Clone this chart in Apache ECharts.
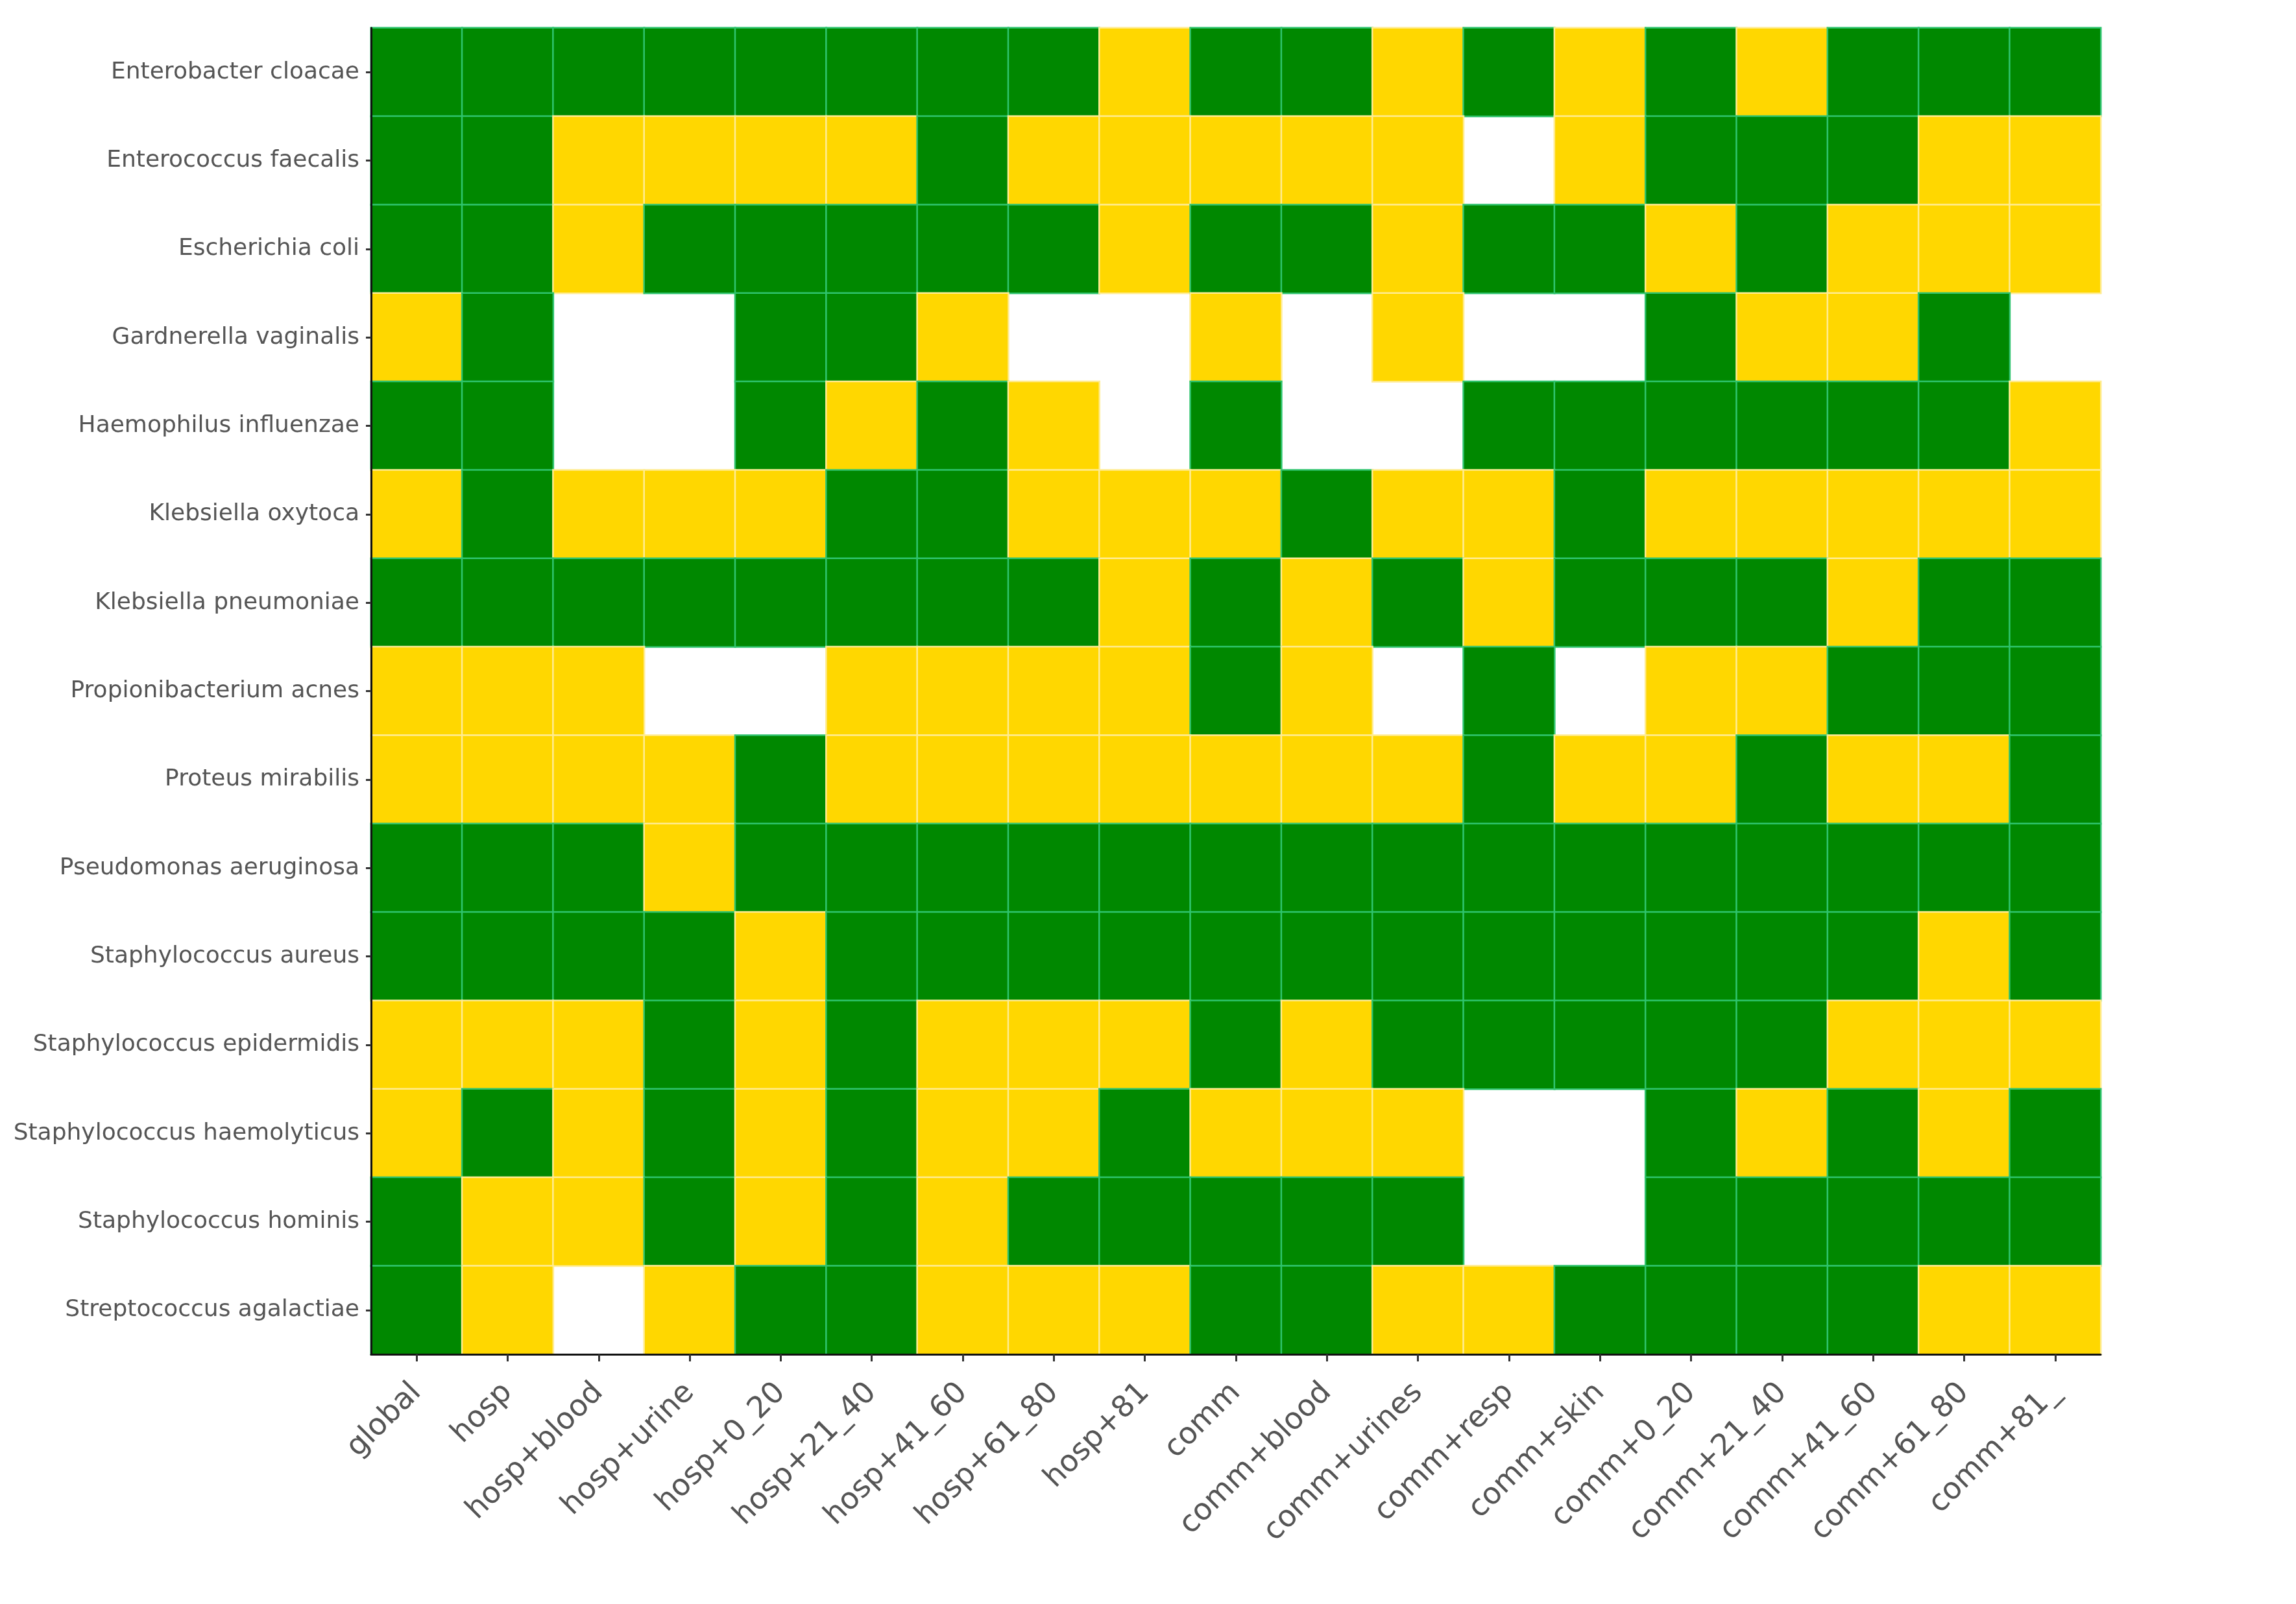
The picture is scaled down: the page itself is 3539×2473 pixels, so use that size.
<!DOCTYPE html>
<html>
<head>
<meta charset="utf-8">
<title>heatmap</title>
<script src="https://cdn.jsdelivr.net/npm/echarts@6/dist/echarts.min.js"></script>
<style>
  html, body { margin: 0; padding: 0; background: #fff; }
  #main { width: 3539px; height: 2473px; }
</style>
</head>
<body>
<div id="main"></div>
<script>
// x categories
const columns = ['global', 'hosp', 'hosp+blood', 'hosp+urine', 'hosp+0_20', 'hosp+21_40', 'hosp+41_60',
  'hosp+61_80', 'hosp+81', 'comm', 'comm+blood', 'comm+urines', 'comm+resp', 'comm+skin',
  'comm+0_20', 'comm+21_40', 'comm+41_60', 'comm+61_80', 'comm+81_']

// y categories, top to bottom
const species = ['Enterobacter cloacae', 'Enterococcus faecalis', 'Escherichia coli', 'Gardnerella vaginalis',
  'Haemophilus influenzae', 'Klebsiella oxytoca', 'Klebsiella pneumoniae', 'Propionibacterium acnes',
  'Proteus mirabilis', 'Pseudomonas aeruginosa', 'Staphylococcus aureus', 'Staphylococcus epidermidis',
  'Staphylococcus haemolyticus', 'Staphylococcus hominis', 'Streptococcus agalactiae']

// 1 = green, 0 = yellow, null = no value (white)
const enterobacterCloacae = [1,1,1,1,1,1,1,1,0,1,1,0,1,0,1,0,1,1,1]
const enterococcusFaecalis = [1,1,0,0,0,0,1,0,0,0,0,0,null,0,1,1,1,0,0]
const escherichiaColi = [1,1,0,1,1,1,1,1,0,1,1,0,1,1,0,1,0,0,0]
const gardnerellaVaginalis = [0,1,null,null,1,1,0,null,null,0,null,0,null,null,1,0,0,1,null]
const haemophilusInfluenzae = [1,1,null,null,1,0,1,0,null,1,null,null,1,1,1,1,1,1,0]
const klebsiellaOxytoca = [0,1,0,0,0,1,1,0,0,0,1,0,0,1,0,0,0,0,0]
const klebsiellaPneumoniae = [1,1,1,1,1,1,1,1,0,1,0,1,0,1,1,1,0,1,1]
const propionibacteriumAcnes = [0,0,0,null,null,0,0,0,0,1,0,null,1,null,0,0,1,1,1]
const proteusMirabilis = [0,0,0,0,1,0,0,0,0,0,0,0,1,0,0,1,0,0,1]
const pseudomonasAeruginosa = [1,1,1,0,1,1,1,1,1,1,1,1,1,1,1,1,1,1,1]
const staphAureus = [1,1,1,1,0,1,1,1,1,1,1,1,1,1,1,1,1,0,1]
const staphEpidermidis = [0,0,0,1,0,1,0,0,0,1,0,1,1,1,1,1,0,0,0]
const staphHaemolyticus = [0,1,0,1,0,1,0,0,1,0,0,0,null,null,1,0,1,0,1]
const staphHominis = [1,0,0,1,0,1,0,1,1,1,1,1,null,null,1,1,1,1,1]
const streptoAgalactiae = [1,0,null,0,1,1,0,0,0,1,1,0,0,1,1,1,1,0,0]

const rows = [enterobacterCloacae, enterococcusFaecalis, escherichiaColi, gardnerellaVaginalis,
  haemophilusInfluenzae, klebsiellaOxytoca, klebsiellaPneumoniae, propionibacteriumAcnes,
  proteusMirabilis, pseudomonasAeruginosa, staphAureus, staphEpidermidis, staphHaemolyticus,
  staphHominis, streptoAgalactiae]

const GREEN = '#008800'
const YELLOW = '#ffd700'

// build heatmap items, skipping empty cells
const cells = []
rows.forEach((row, y) => {
  row.forEach((v, x) => {
    if (v === null) return
    cells.push({
      value: [x, y, v],
      itemStyle: { borderColor: v === 1 ? '#2fc46e' : '#ffec92' }
    })
  })
})

const labelFont = 'DejaVu Sans'
const chart = echarts.init(document.getElementById('main'))

const option = {
  backgroundColor: '#fff',
  animation: false,
  grid: {
    left: 572,
    top: 43,
    width: 2666,
    height: 2045
  },
  xAxis: {
    type: 'category',
    data: columns,
    z: 5,
    axisLine: { show: true, lineStyle: { color: '#111', width: 3 } },
    axisTick: { show: true, inside: false, alignWithLabel: true, length: 11, lineStyle: { color: '#333', width: 3 } },
    axisLabel: {
      rotate: 45,
      interval: 0,
      margin: 52,
      fontSize: 46,
      color: '#555',
      fontFamily: labelFont
    },
    splitLine: { show: false },
    splitArea: { show: false }
  },
  yAxis: {
    type: 'category',
    data: species,
    inverse: true,
    z: 5,
    axisLine: { show: true, lineStyle: { color: '#111', width: 3 } },
    axisTick: { show: true, inside: false, alignWithLabel: true, length: 8, lineStyle: { color: '#333', width: 3 } },
    axisLabel: {
      interval: 0,
      margin: 18,
      fontSize: 36,
      color: '#555',
      fontFamily: labelFont
    },
    splitLine: { show: false },
    splitArea: { show: false }
  },
  visualMap: {
    show: false,
    type: 'piecewise',
    dimension: 2,
    pieces: [
      { value: 1, color: GREEN },
      { value: 0, color: YELLOW }
    ]
  },
  series: [
    {
      type: 'heatmap',
      data: cells,
      z: 2,
      itemStyle: { borderWidth: 2.5 },
      label: { show: false }
    }
  ]
}

chart.setOption(option)
</script>
</body>
</html>
